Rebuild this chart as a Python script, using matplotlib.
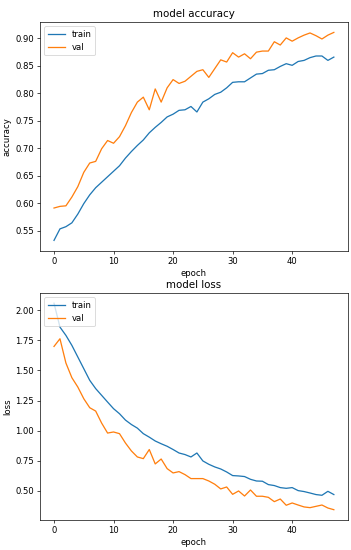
import matplotlib
matplotlib.use("Agg")
import matplotlib.pyplot as plt

epochs = list(range(48))

acc_train = [0.532, 0.553, 0.557, 0.564, 0.580, 0.599, 0.615, 0.628, 0.638, 0.648,
             0.658, 0.668, 0.682, 0.694, 0.705, 0.715, 0.728, 0.738, 0.747, 0.757,
             0.762, 0.769, 0.770, 0.776, 0.766, 0.784, 0.790, 0.798, 0.802, 0.810,
             0.820, 0.821, 0.821, 0.828, 0.835, 0.836, 0.842, 0.843, 0.849, 0.854,
             0.851, 0.858, 0.860, 0.865, 0.868, 0.868, 0.860, 0.866]
acc_val = [0.591, 0.594, 0.595, 0.611, 0.630, 0.656, 0.673, 0.676, 0.699, 0.714,
           0.709, 0.721, 0.741, 0.765, 0.784, 0.793, 0.770, 0.808, 0.784, 0.810,
           0.825, 0.818, 0.822, 0.831, 0.840, 0.843, 0.829, 0.845, 0.861, 0.857,
           0.874, 0.866, 0.872, 0.863, 0.875, 0.877, 0.877, 0.894, 0.888, 0.901,
           0.895, 0.901, 0.906, 0.910, 0.905, 0.899, 0.906, 0.911]

loss_train = [2.06, 1.861, 1.792, 1.709, 1.612, 1.515, 1.418, 1.349, 1.293, 1.237,
              1.182, 1.140, 1.087, 1.050, 1.020, 0.974, 0.945, 0.913, 0.890, 0.869,
              0.842, 0.813, 0.800, 0.780, 0.813, 0.747, 0.719, 0.697, 0.680, 0.655,
              0.625, 0.622, 0.617, 0.594, 0.580, 0.578, 0.550, 0.542, 0.525, 0.519,
              0.525, 0.500, 0.492, 0.480, 0.467, 0.461, 0.494, 0.467]
loss_val = [1.700, 1.764, 1.562, 1.440, 1.362, 1.265, 1.190, 1.162, 1.062, 0.979,
            0.988, 0.974, 0.896, 0.830, 0.780, 0.766, 0.842, 0.722, 0.763, 0.683,
            0.647, 0.658, 0.633, 0.600, 0.600, 0.600, 0.580, 0.553, 0.514, 0.530,
            0.469, 0.497, 0.455, 0.505, 0.453, 0.453, 0.444, 0.408, 0.430, 0.378,
            0.397, 0.380, 0.364, 0.358, 0.369, 0.380, 0.355, 0.341]

DPI = 61.4
fig = plt.figure(figsize=(351 / DPI, 550 / DPI), dpi=DPI)

ax1 = fig.add_axes([0.114, 0.544, 0.877, 0.416])
ax1.plot(epochs, acc_train, label="train")
ax1.plot(epochs, acc_val, label="val")
ax1.set_title("model accuracy")
ax1.set_ylabel("accuracy")
ax1.set_xlabel("epoch")
ax1.legend(loc="upper left")

ax2 = fig.add_axes([0.114, 0.0545, 0.877, 0.413])
ax2.plot(epochs, loss_train, label="train")
ax2.plot(epochs, loss_val, label="val")
ax2.set_title("model loss")
ax2.set_ylabel("loss")
ax2.set_xlabel("epoch")
ax2.legend(loc="upper left")

fig.savefig("out.png", dpi=DPI)
